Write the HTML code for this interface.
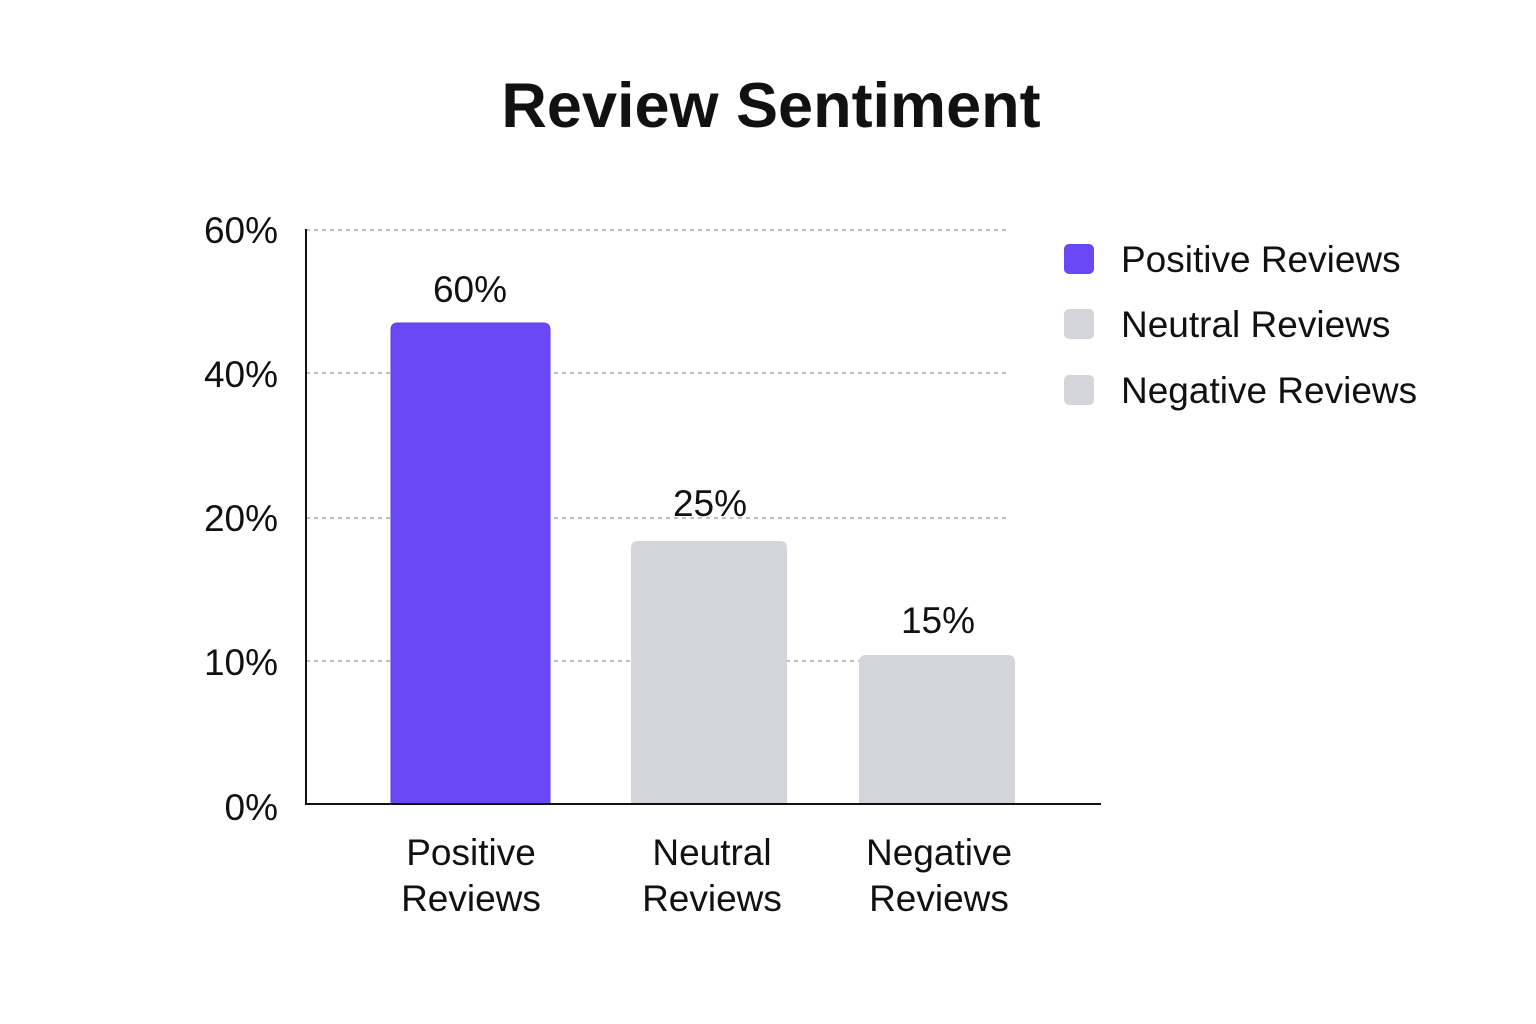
<!DOCTYPE html>
<html><head><meta charset="utf-8"><style>
html,body{margin:0;padding:0;background:#fff;}
svg{display:block;}
text{font-family:"Liberation Sans",sans-serif;fill:#111;}
</style></head><body>
<svg width="1536" height="1024" viewBox="0 0 1536 1024" xmlns="http://www.w3.org/2000/svg">
<rect width="1536" height="1024" fill="#fff"/>
<text x="771" y="127" font-size="63" font-weight="bold" text-anchor="middle">Review Sentiment</text>
<g stroke="#aaa" stroke-width="1.5" stroke-dasharray="4,4">
<line x1="306" y1="230" x2="1007" y2="230"/>
<line x1="306" y1="373" x2="1007" y2="373"/>
<line x1="306" y1="518" x2="1007" y2="518"/>
<line x1="306" y1="661" x2="1007" y2="661"/>
</g>
<g font-size="37" text-anchor="end">
<text x="278" y="243">60%</text>
<text x="278" y="387">40%</text>
<text x="278" y="531">20%</text>
<text x="278" y="675">10%</text>
<text x="278" y="820">0%</text>
</g>
<path d="M391,804 V330 Q391,323 398,323 H543 Q550,323 550,330 V804 Z" fill="#6B48F6" stroke="#5a3be0" stroke-width="1"/>
<path d="M631,804 V548 Q631,541 638,541 H780 Q787,541 787,548 V804 Z" fill="#D4D5DA"/>
<path d="M859,804 V662 Q859,655 866,655 H1008 Q1015,655 1015,662 V804 Z" fill="#D4D5DA"/>
<line x1="306" y1="229" x2="306" y2="805" stroke="#111" stroke-width="2"/>
<line x1="305" y1="804" x2="1101" y2="804" stroke="#111" stroke-width="2"/>
<g font-size="37" text-anchor="middle">
<text x="470" y="302">60%</text>
<text x="710" y="516">25%</text>
<text x="938" y="633">15%</text>
<text x="471" y="865">Positive</text><text x="471" y="911">Reviews</text>
<text x="712" y="865">Neutral</text><text x="712" y="911">Reviews</text>
<text x="939" y="865">Negative</text><text x="939" y="911">Reviews</text>
</g>
<rect x="1064" y="244" width="30" height="30" rx="5" fill="#6B48F6"/>
<rect x="1064" y="309" width="30" height="30" rx="5" fill="#D4D5DA"/>
<rect x="1064" y="375" width="30" height="30" rx="5" fill="#D4D5DA"/>
<g font-size="37">
<text x="1121" y="272">Positive Reviews</text>
<text x="1121" y="337">Neutral Reviews</text>
<text x="1121" y="403">Negative Reviews</text>
</g>
</svg>
</body></html>
